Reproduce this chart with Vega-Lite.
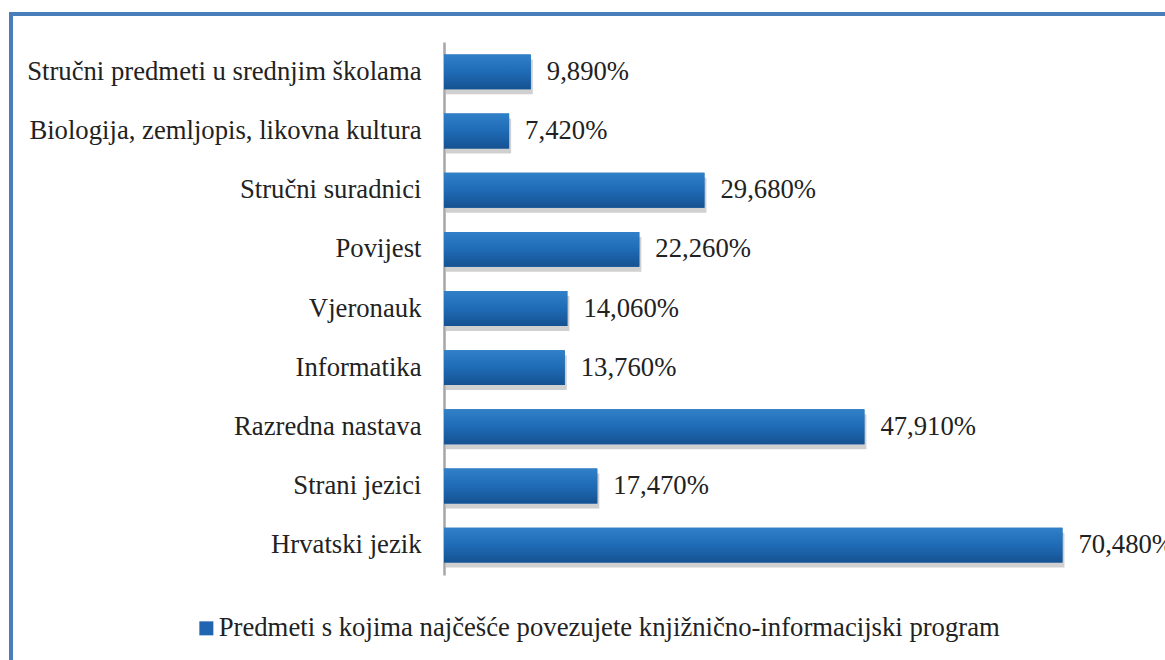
{
  "$schema": "https://vega.github.io/schema/vega-lite/v6.json",
  "autosize": "none",
  "width": 1160,
  "height": 650,
  "padding": {"left": 11, "top": 14, "right": -6, "bottom": -4},
  "background": "white",
  "config": {
    "view": {"stroke": "#4a7ebb", "strokeWidth": 4},
    "locale": {"number": {"decimal": ",", "thousands": ".", "grouping": [3], "currency": ["", " €"]}},
    "font": "Liberation Serif"
  },
  "data": {
    "values": [
      {"subject": "Stručni predmeti u srednjim školama", "value": 0.0989, "series": "Predmeti s kojima najčešće povezujete knjižnično-informacijski program"},
      {"subject": "Biologija, zemljopis, likovna kultura", "value": 0.0742, "series": "Predmeti s kojima najčešće povezujete knjižnično-informacijski program"},
      {"subject": "Stručni suradnici", "value": 0.2968, "series": "Predmeti s kojima najčešće povezujete knjižnično-informacijski program"},
      {"subject": "Povijest", "value": 0.2226, "series": "Predmeti s kojima najčešće povezujete knjižnično-informacijski program"},
      {"subject": "Vjeronauk", "value": 0.1406, "series": "Predmeti s kojima najčešće povezujete knjižnično-informacijski program"},
      {"subject": "Informatika", "value": 0.1376, "series": "Predmeti s kojima najčešće povezujete knjižnično-informacijski program"},
      {"subject": "Razredna nastava", "value": 0.4791, "series": "Predmeti s kojima najčešće povezujete knjižnično-informacijski program"},
      {"subject": "Strani jezici", "value": 0.1747, "series": "Predmeti s kojima najčešće povezujete knjižnično-informacijski program"},
      {"subject": "Hrvatski jezik", "value": 0.7048, "series": "Predmeti s kojima najčešće povezujete knjižnično-informacijski program"}
    ]
  },
  "encoding": {
    "y": {
      "field": "subject",
      "type": "nominal",
      "sort": null,
      "scale": {"range": [28, 561], "paddingInner": 0.41, "paddingOuter": 0.21},
      "axis": {
        "title": null,
        "ticks": false,
        "offset": -433,
        "labelFont": "Liberation Serif",
        "labelFontSize": 26.7,
        "labelColor": "#222222",
        "labelPadding": 23,
        "labelLimit": 600,
        "domainColor": "#a6a6a6",
        "domainWidth": 2.5,
        "grid": false
      }
    },
    "x": {
      "field": "value",
      "type": "quantitative",
      "scale": {"domain": [0, 0.8], "range": [433, 1135], "nice": false, "zero": true},
      "axis": null
    }
  },
  "layer": [
    {
      "mark": {"type": "bar", "color": "#c4c4c4", "opacity": 0.8, "yOffset": 5, "xOffset": 2, "x2Offset": 5}
    },
    {
      "mark": {"type": "bar"},
      "encoding": {
        "color": {
          "field": "series",
          "type": "nominal",
          "scale": {"range": ["#1f65b0"]},
          "legend": {
            "orient": "none",
            "legendX": 182,
            "legendY": 601,
            "title": null,
            "padding": 0,
            "symbolType": "square",
            "symbolSize": 196,
            "symbolStrokeWidth": 0,
            "labelFont": "Liberation Serif",
            "labelFontSize": 26.7,
            "labelColor": "#222222",
            "labelOffset": -1,
            "labelLimit": 1000
          }
        }
      }
    },
    {
      "mark": {
        "type": "bar",
        "color": {
          "gradient": "linear",
          "x1": 0, "y1": 0, "x2": 0, "y2": 1,
          "stops": [
            {"offset": 0, "color": "#3080c8"},
            {"offset": 0.5, "color": "#1f6bb6"},
            {"offset": 1, "color": "#155291"}
          ]
        }
      }
    },
    {
      "mark": {"type": "text", "align": "left", "baseline": "middle", "dx": 16, "fontSize": 26.7, "font": "Liberation Serif", "color": "#222222"},
      "encoding": {
        "text": {"field": "value", "type": "quantitative", "format": ".3%"}
      }
    }
  ]
}
